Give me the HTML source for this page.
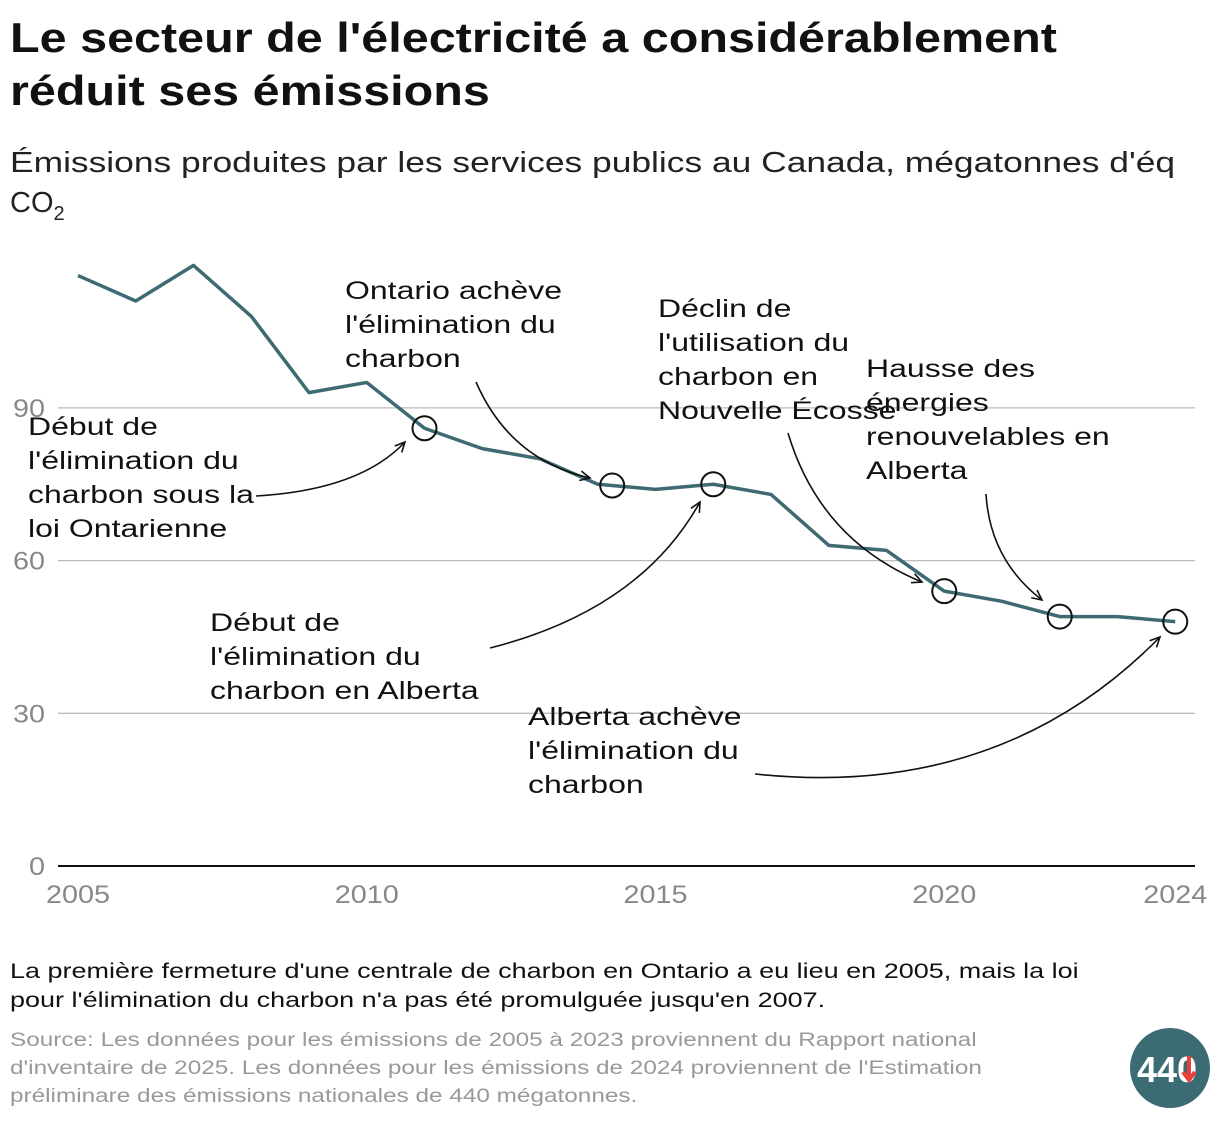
<!DOCTYPE html>
<html><head><meta charset="utf-8"><style>
body{margin:0;background:#fff;width:1220px;height:1120px;overflow:hidden;font-family:"Liberation Sans",sans-serif;}
svg text{font-family:"Liberation Sans",sans-serif;}
</style></head><body>
<svg width="1220" height="1120">
<text x="10" y="52" font-size="42" font-weight="bold" fill="#111" data-sx="1.155">Le secteur de l'électricité a considérablement</text>
<text x="10" y="105" font-size="42" font-weight="bold" fill="#111" data-sx="1.155">réduit ses émissions</text>
<text x="10" y="172" font-size="29" fill="#222" data-sx="1.22">Émissions produites par les services publics au Canada, mégatonnes d'éq</text>
<text x="10" y="212" font-size="29" fill="#222">CO<tspan font-size="20" dy="8">2</tspan></text>
<g id="grid"></g>
<g id="series"></g>
<g id="annot" font-size="25" fill="#111"></g>
<text x="10" y="978" font-size="21" fill="#111" data-sx="1.285">La première fermeture d'une centrale de charbon en Ontario a eu lieu en 2005, mais la loi</text>
<text x="10" y="1007" font-size="21" fill="#111" data-sx="1.285">pour l'élimination du charbon n'a pas été promulguée jusqu'en 2007.</text>
<g font-size="19" fill="#999">
<text x="10" y="1046" data-sx="1.28">Source: Les données pour les émissions de 2005 à 2023 proviennent du Rapport national</text>
<text x="10" y="1074" data-sx="1.28">d'inventaire de 2025. Les données pour les émissions de 2024 proviennent de l'Estimation</text>
<text x="10" y="1102" data-sx="1.28">préliminare des émissions nationales de 440 mégatonnes.</text>
</g>
<g>
<circle cx="1170" cy="1068" r="40" fill="#3b6b73"/>
<text x="1167" y="1082" font-size="36" font-weight="bold" fill="#fff" text-anchor="middle">440</text>
<path d="M1189 1056 v22 M1183 1072 l6 8 l6 -8" stroke="#e8403a" stroke-width="4" fill="none"/>
</g>
</svg>
<script>
const years=[2005,2006,2007,2008,2009,2010,2011,2012,2013,2014,2015,2016,2017,2018,2019,2020,2021,2022,2023,2024];
const emissions=[116,111,118,108,93,95,86,82,80,75,74,75,73,63,62,54,52,49,49,48];
const yTicks=[0,30,60,90];
const xTicks=[2005,2010,2015,2020,2024];
const markedYears=[2011,2014.25,2016,2020,2022,2024];
const NS="http://www.w3.org/2000/svg";
const x=v=>78+(v-2005)*57.75;
const y=v=>866-v*5.09;
function mk(t,a,p){const e=document.createElementNS(NS,t);for(const k in a)e.setAttribute(k,a[k]);p.appendChild(e);return e;}
const grid=document.getElementById('grid');
yTicks.forEach(t=>{
 const l=mk('line',{x1:58,x2:1195,y1:y(t),y2:y(t),stroke:t==0?'#111':'#bbb','stroke-width':t==0?2:1.3},grid);
 
 
 const tx=mk('text',{x:45,y:y(t)+9,'font-size':25,fill:'#888','text-anchor':'end','data-sx':1.15},grid);tx.textContent=t;
 
 
});
xTicks.forEach(t=>{
 const tx=mk('text',{x:x(t),y:903,'font-size':25,fill:'#888','text-anchor':'middle','data-sx':1.15},grid);tx.textContent=t;
 
 
});
const s=document.getElementById('series');
const p=mk('polyline',{points:years.map((yr,i)=>x(yr)+','+y(emissions[i])).join(' '),fill:'none',stroke:'#3e6b72','stroke-width':3.5,'stroke-linejoin':'round'},s);


function valAt(yr){const i=Math.min(years.length-2,Math.floor(yr-2005));const f=yr-years[i];return emissions[i]+(emissions[i+1]-emissions[i])*f;}
markedYears.forEach(yr=>{
 const c=mk('circle',{cx:x(yr),cy:y(valAt(yr)),r:12,fill:'none',stroke:'#111','stroke-width':2},s);
 
 
});
const A=document.getElementById('annot');
const notes=[
 [28,435,["Début de","l'élimination du","charbon sous la","loi Ontarienne"],"M256 496 Q360 490 405 442",[405,442]],
 [345,299,["Ontario achève","l'élimination du","charbon"],"M476 382 Q510 460 590 478",[590,478]],
 [658,317,["Déclin de","l'utilisation du","charbon en","Nouvelle Écosse"],"M788 433 Q820 540 922 582",[922,582]],
 [866,377,["Hausse des","énergies","renouvelables en","Alberta"],"M986 494 Q990 560 1042 600",[1042,600]],
 [210,631,["Début de","l'élimination du","charbon en Alberta"],"M490 648 Q640 610 700 502",[700,502]],
 [528,725,["Alberta achève","l'élimination du","charbon"],"M755 774 Q1000 800 1160 637",[1160,637]]
];
notes.forEach((n,k)=>{
 n[2].forEach((ln,i)=>{
  const t=mk('text',{x:n[0],y:n[1]+i*34,'data-sx':1.28},A);t.textContent=ln;
  
  
 });
 const pa=mk('path',{d:n[3],fill:'none',stroke:'#111','stroke-width':1.6},A);
 
 
 const pts=n[3].match(/-?\d+(\.\d+)?/g).map(Number);
 const cx=pts[2],cy=pts[3],ex=n[4][0],ey=n[4][1];
 const a=Math.atan2(ey-cy,ex-cx),L=11;
 const h=mk('path',{d:`M${ex-L*Math.cos(a-0.45)} ${ey-L*Math.sin(a-0.45)} L${ex} ${ey} L${ex-L*Math.cos(a+0.45)} ${ey-L*Math.sin(a+0.45)}`,fill:'none',stroke:'#111','stroke-width':1.6},A);
 
 
});
document.querySelectorAll('text[data-sx]').forEach(t=>{
 const w=t.getComputedTextLength();
 t.setAttribute('textLength',(w*parseFloat(t.getAttribute('data-sx'))).toFixed(1));
 t.setAttribute('lengthAdjust','spacingAndGlyphs');
});
</script>
</body></html>
